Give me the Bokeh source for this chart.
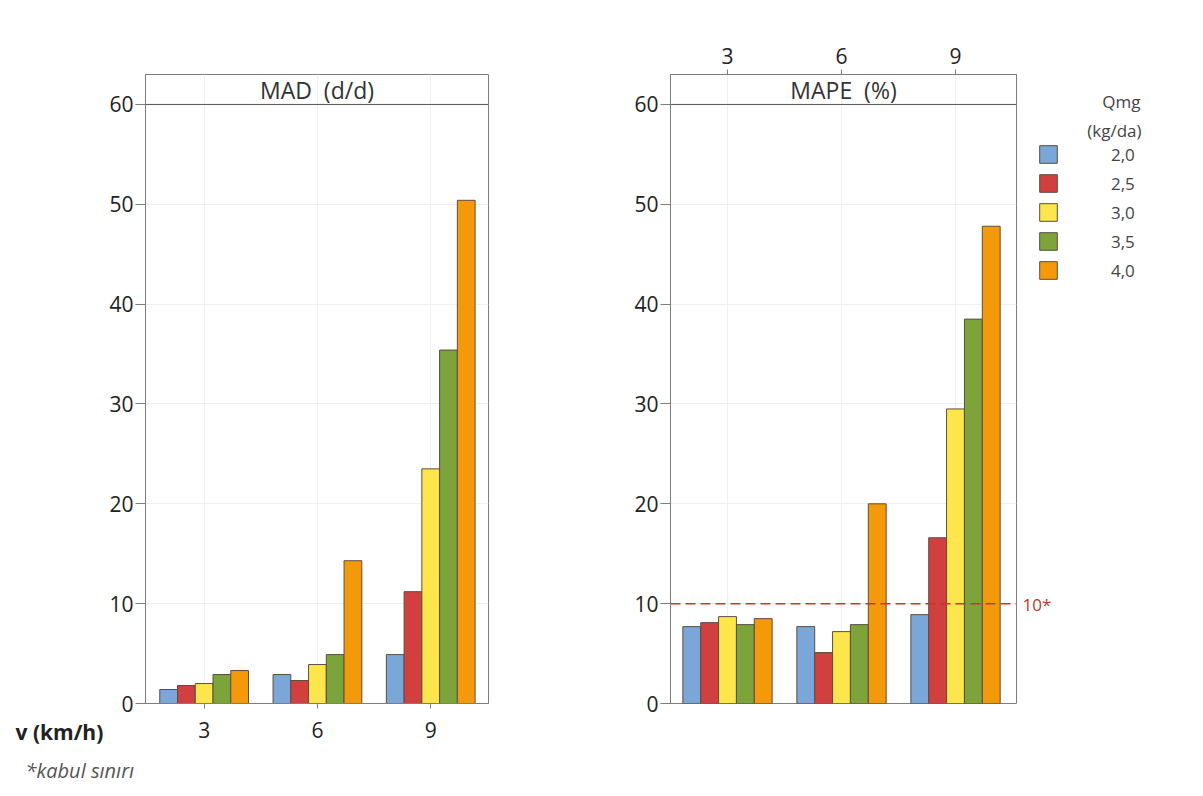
from bokeh.plotting import figure
from bokeh.layouts import row, column
from bokeh.models import (ColumnDataSource, Range1d, FixedTicker, Span, Label,
                          Legend, LegendItem)
from bokeh.embed import file_html
from bokeh.resources import INLINE

# speeds (km/h) and fertilizer rates (kg/da)
speeds = [3, 6, 9]
rates = ["2,0", "2,5", "3,0", "3,5", "4,0"]
colors = ["#7BA6D8", "#D1403F", "#FDE64B", "#7DA33B", "#F49A0A"]

# MAD (d/d) per rate, values at v = 3, 6, 9
mad_20 = [1.4, 2.9, 4.9]
mad_25 = [1.8, 2.3, 11.2]
mad_30 = [2.0, 3.9, 23.5]
mad_35 = [2.9, 4.9, 35.4]
mad_40 = [3.3, 14.3, 50.4]

# MAPE (%) per rate, values at v = 3, 6, 9
mape_20 = [7.7, 7.7, 8.9]
mape_25 = [8.1, 5.1, 16.6]
mape_30 = [8.7, 7.2, 29.5]
mape_35 = [7.9, 7.9, 38.5]
mape_40 = [8.5, 20.0, 47.8]

limit = 10  # acceptance limit for MAPE

mad = [mad_20, mad_25, mad_30, mad_35, mad_40]
mape = [mape_20, mape_25, mape_30, mape_35, mape_40]

FONT = "Open Sans"
BAR_W = 0.47
OFFSETS = [-2, -1, 0, 1, 2]
FRAME_C = "#7d7d7d"
TXT_C = "#222222"
LEG_C = "#444444"
BAR_EDGE = "#5a4d41"
NBSP = "\u00a0"

ROW_H = 752          # height of the chart row
NOTE_H = 44          # footnote strip underneath
TOP = 74             # space above the panel frames
BOTTOM = ROW_H - 703 # space below the panel frames (tick labels)


def text_strip(width, height):
    """Axis-less canvas whose data units are pixels (y counted from the top)."""
    p = figure(width=width, height=height, output_backend="svg", toolbar_location=None,
               x_range=Range1d(0, width), y_range=Range1d(height, 0),
               x_axis_type=None, y_axis_type=None, min_border=0,
               background_fill_color="white", border_fill_color="white")
    p.frame_align = False
    p.outline_line_color = None
    p.grid.visible = False
    return p


def make_panel(series, title, width, border_left, border_right, xr, x_loc):
    p = figure(width=width, height=ROW_H, output_backend="svg", toolbar_location=None,
               x_range=Range1d(*xr), y_range=Range1d(0, 63),
               x_axis_location=x_loc,
               min_border_left=border_left, min_border_right=border_right,
               min_border_top=TOP, min_border_bottom=BOTTOM,
               background_fill_color="white", border_fill_color="white")
    p.outline_line_color = FRAME_C
    p.outline_line_width = 1

    p.xaxis.ticker = FixedTicker(ticks=speeds)
    p.yaxis.ticker = FixedTicker(ticks=[0, 10, 20, 30, 40, 50, 60])
    for ax in (p.xaxis[0], p.yaxis[0]):
        ax.axis_line_color = FRAME_C
        ax.major_tick_line_color = FRAME_C
        ax.major_tick_in = 0
        ax.minor_tick_line_color = None
        ax.major_label_text_font = FONT
        ax.major_label_text_font_size = "21px"
        ax.major_label_text_color = TXT_C
    p.yaxis.major_tick_out = 10
    p.yaxis.major_label_standoff = 2
    p.xaxis.major_tick_out = 5
    p.xaxis.major_label_standoff = 13 if x_loc == "below" else 6

    p.xgrid.ticker = FixedTicker(ticks=speeds)
    p.xgrid.grid_line_color = "#efefef"
    p.ygrid.ticker = FixedTicker(ticks=[10, 20, 30, 40, 50])
    p.ygrid.grid_line_color = "#efefef"

    sources = []
    for i, vals in enumerate(series):
        xs = [s + OFFSETS[i] * BAR_W for s in speeds]
        src = ColumnDataSource(dict(x=xs, top=vals))
        p.vbar(x="x", top="top", bottom=0, width=BAR_W, source=src,
               fill_color=colors[i], line_color=BAR_EDGE, line_width=1)
        sources.append(src)

    # panel header strip
    p.add_layout(Span(location=60, dimension="width", line_color="#555555", line_width=1))
    p.add_layout(Label(x=(xr[0] + xr[1]) / 2, y=61.4, text=title, text_align="center",
                       text_baseline="middle", text_font=FONT, text_font_size="23px",
                       text_color="#333333"))
    return p, sources


# left strip: speed-axis caption
pv = text_strip(106, ROW_H)
pv.add_layout(Label(x=15, y=731, text="v (km/h)", text_align="left", text_baseline="middle",
                    text_font=FONT, text_font_size="21px", text_font_style="bold",
                    text_color=TXT_C))

p1, _ = make_panel(mad, f"MAD{NBSP} (d/d)", 454, 37, 72, (1.447, 10.53), "below")
p2, mape_sources = make_panel(mape, f"MAPE{NBSP} (%)", 458, 110, 2, (1.5, 10.605), "above")

# acceptance limit line
p2.add_layout(Span(location=limit, dimension="width", line_color="#C0392B",
                   line_width=1.5, line_dash="10 5"))

# right strip: limit tag and fertilizer-rate legend
pr = text_strip(185, ROW_H)
pr.add_layout(Label(x=4, y=604, text=f"{limit}*", text_align="left", text_baseline="middle",
                    text_font=FONT, text_font_size="17px", text_color="#C0392B"))
pr.add_layout(Label(x=122, y=101, text="Qmg", text_align="right", text_baseline="middle",
                    text_font=FONT, text_font_size="17px", text_color=LEG_C))
pr.add_layout(Label(x=123, y=130, text="(kg/da)", text_align="right", text_baseline="middle",
                    text_font=FONT, text_font_size="17px", text_color=LEG_C))

# legend keys: hidden copies of the MAPE bars, used only for their swatches
keys = [pr.vbar(x="x", top="top", width=BAR_W, source=mape_sources[i], visible=False,
                fill_color=colors[i], line_color=BAR_EDGE) for i in range(5)]
legend = Legend(items=[LegendItem(label=rates[i], renderers=[keys[i]]) for i in range(5)],
                location=(19, ROW_H - 142 - (5 * 24 + 4 * 5)),
                glyph_width=22, glyph_height=22, spacing=5, label_standoff=52,
                label_height=24, label_text_font=FONT, label_text_font_size="17px",
                label_text_color=LEG_C, padding=0, margin=0,
                inactive_fill_alpha=0,
                border_line_color=None, background_fill_alpha=0)
pr.add_layout(legend, "center")

# footnote strip
pn = text_strip(1203, NOTE_H)
pn.add_layout(Label(x=25, y=770 - ROW_H, text="*kabul sınırı", text_align="left",
                    text_baseline="middle", text_font=FONT, text_font_size="20px",
                    text_font_style="italic", text_color="#555555"))

layout = column(row(pv, p1, p2, pr), pn)
open("out.html", "w").write(file_html(layout, INLINE))
